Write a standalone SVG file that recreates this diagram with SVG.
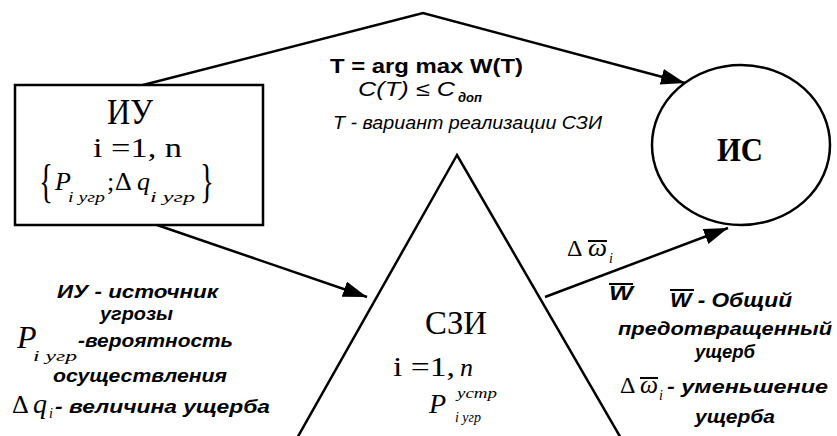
<svg xmlns="http://www.w3.org/2000/svg" width="837" height="436" viewBox="0 0 837 436">
<defs>
<marker id="ah" markerUnits="userSpaceOnUse" markerWidth="26" markerHeight="18" refX="24" refY="8" orient="auto">
<path d="M0,0 L24,8 L0,16 z" fill="#000"/>
</marker>
<style>
.edge{fill:none;stroke:#000;stroke-width:2.5}
.shape{fill:#fff;stroke:#000;stroke-width:2.5}
.ser{font-family:"Liberation Serif","Times New Roman",serif;fill:#000}
.sit{font-family:"Liberation Serif","Times New Roman",serif;font-style:italic;fill:#000}
.lab{font-family:"Liberation Sans",Arial,sans-serif;font-style:italic;font-weight:bold;fill:#000}
.top{font-family:"Liberation Sans",Arial,sans-serif;font-weight:bold;fill:#000}
.itl{font-family:"Liberation Sans",Arial,sans-serif;font-style:italic;fill:#000}
.ovl{stroke:#000;stroke-width:2}
</style>
</defs>
<rect width="837" height="436" fill="#fff"/>

<g id="connectors">
<polyline class="edge" points="143,85 423,13 685,83" marker-end="url(#ah)"/>
<line class="edge" x1="157" y1="225" x2="367" y2="297" marker-end="url(#ah)"/>
<line class="edge" x1="545" y1="297" x2="728" y2="228" marker-end="url(#ah)"/>
</g>

<g id="node-iu">
<rect class="shape" x="15" y="85" width="248" height="140"/>
<text class="ser" x="107" y="124" font-size="36" textLength="46" lengthAdjust="spacingAndGlyphs">ИУ</text>
<text class="ser" x="93" y="157" font-size="27" textLength="89" lengthAdjust="spacingAndGlyphs">i =1, n</text>
<text class="ser" transform="translate(39,197) scale(0.5,0.8)" font-size="58">{</text>
<text class="sit" x="55" y="190" font-size="26">P</text>
<text class="sit" x="68" y="202" font-size="14" textLength="37" lengthAdjust="spacingAndGlyphs">i угр</text>
<text class="ser" x="107" y="190" font-size="26">;</text>
<text class="ser" x="115" y="190" font-size="26">Δ</text>
<text class="sit" x="137" y="190" font-size="26">q</text>
<text class="sit" x="150" y="202" font-size="14" textLength="45" lengthAdjust="spacingAndGlyphs">i угр</text>
<text class="ser" transform="translate(200,197) scale(0.5,0.8)" font-size="58">}</text>
</g>

<g id="node-is">
<ellipse class="shape" cx="741" cy="145" rx="89" ry="80"/>
<text class="ser" x="717" y="161" font-size="34" font-weight="bold" textLength="46" lengthAdjust="spacingAndGlyphs">ИС</text>
</g>

<g id="node-szi">
<polygon class="shape" points="457,155 296,440 622,440"/>
<text class="ser" x="425" y="334" font-size="33" textLength="62" lengthAdjust="spacingAndGlyphs">СЗИ</text>
<text class="ser" x="393" y="376" font-size="28" textLength="62" lengthAdjust="spacingAndGlyphs">i =1,</text>
<text class="sit" x="460" y="376" font-size="26">n</text>
<text class="sit" x="429" y="413" font-size="28">P</text>
<text class="sit" x="457" y="398" font-size="14" textLength="40" lengthAdjust="spacingAndGlyphs">устр</text>
<text class="sit" x="455" y="422" font-size="14" textLength="26" lengthAdjust="spacingAndGlyphs">i угр</text>
</g>

<g id="label-top">
<text class="top" x="330" y="73" font-size="21" textLength="193" lengthAdjust="spacingAndGlyphs">T = arg max W(T)</text>
<text class="itl" x="358" y="96" font-size="20" textLength="97" lengthAdjust="spacingAndGlyphs">C(T) ≤ C</text>
<text class="lab" x="458" y="102" font-size="12" textLength="24" lengthAdjust="spacingAndGlyphs">доп</text>
<text class="itl" x="333" y="129" font-size="19" textLength="269" lengthAdjust="spacingAndGlyphs">T - вариант реализации СЗИ</text>
</g>

<g id="label-left">
<text class="lab" x="57" y="298" font-size="19" textLength="161" lengthAdjust="spacingAndGlyphs">ИУ - источник</text>
<text class="lab" x="100" y="320" font-size="19" textLength="73" lengthAdjust="spacingAndGlyphs">угрозы</text>
<text class="sit" x="17" y="348" font-size="32">P</text>
<text class="sit" x="33" y="361" font-size="14" textLength="44" lengthAdjust="spacingAndGlyphs">i угр</text>
<text class="lab" x="78" y="347" font-size="19" textLength="155" lengthAdjust="spacingAndGlyphs">-вероятность</text>
<text class="lab" x="53" y="382" font-size="19" textLength="174" lengthAdjust="spacingAndGlyphs">осуществления</text>
<text class="ser" x="12" y="413" font-size="26">Δ</text>
<text class="sit" x="33" y="413" font-size="28">q</text>
<text class="sit" x="49" y="418" font-size="14">i</text>
<text class="lab" x="55" y="413" font-size="19" textLength="215" lengthAdjust="spacingAndGlyphs">- величина ущерба</text>
</g>

<g id="label-right">
<text class="ser" x="567" y="256" font-size="24">Δ</text>
<text class="sit" x="588" y="256" font-size="26" textLength="19" lengthAdjust="spacingAndGlyphs">ω</text>
<line class="ovl" x1="588" y1="241" x2="607" y2="241"/>
<text class="sit" x="609" y="263" font-size="14">i</text>
<text class="lab" x="609" y="300" font-size="20" textLength="24" lengthAdjust="spacingAndGlyphs">W</text>
<line class="ovl" x1="609" y1="284" x2="633" y2="284"/>
<text class="lab" x="670" y="307" font-size="20" textLength="122" lengthAdjust="spacingAndGlyphs">W - Общий</text>
<line class="ovl" x1="670" y1="290" x2="694" y2="290"/>
<text class="lab" x="618" y="335" font-size="19" textLength="214" lengthAdjust="spacingAndGlyphs">предотвращенный</text>
<text class="lab" x="695" y="358" font-size="19" textLength="60" lengthAdjust="spacingAndGlyphs">ущерб</text>
<text class="ser" x="620" y="393" font-size="24">Δ</text>
<text class="sit" x="640" y="393" font-size="26" textLength="18" lengthAdjust="spacingAndGlyphs">ω</text>
<line class="ovl" x1="640" y1="378" x2="658" y2="378"/>
<text class="sit" x="659" y="400" font-size="14">i</text>
<text class="lab" x="667" y="393" font-size="19" textLength="161" lengthAdjust="spacingAndGlyphs">- уменьшение</text>
<text class="lab" x="695" y="423" font-size="19" textLength="80" lengthAdjust="spacingAndGlyphs">ущерба</text>
</g>
</svg>
